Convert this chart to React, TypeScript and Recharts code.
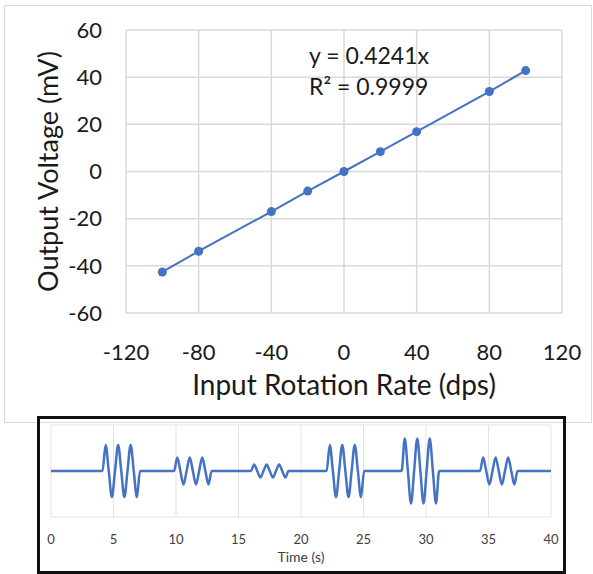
import { ComposedChart, LineChart, Line, XAxis, YAxis, CartesianGrid } from 'recharts';

// calibration: input rate (dps) vs output (mV)
const rateTicks = [-120, -80, -40, 0, 40, 80, 120];
const voltTicks = [-60, -40, -20, 0, 20, 40, 60];
const rates = [-100, -80, -40, -20, 0, 20, 40, 80, 100];
const voltages = [-42.6, -33.8, -17.0, -8.3, 0, 8.4, 16.9, 33.9, 42.8];
const fitText = ['y = 0.4241x', 'R² = 0.9999'];

// time trace (s, mV), one burst per line
const timeTicks = [0, 5, 10, 15, 20, 25, 30, 35, 40];
const signalTime = [
  0,
  4.12, 4.37, 4.62, 4.87, 5.12, 5.37, 5.62, 5.87, 6.12, 6.37, 6.62, 6.87, 7.12,
  9.85, 10.1, 10.35, 10.6, 10.85, 11.1, 11.35, 11.6, 11.85, 12.1, 12.35, 12.6, 12.85,
  16.0, 16.25, 16.5, 16.75, 17.0, 17.25, 17.5, 17.75, 18.0, 18.25, 18.5, 18.75, 19.0,
  22.05, 22.3, 22.55, 22.8, 23.05, 23.3, 23.55, 23.8, 24.05, 24.3, 24.55, 24.8, 25.05,
  28.05, 28.3, 28.55, 28.8, 29.05, 29.3, 29.55, 29.8, 30.05, 30.3, 30.55, 30.8, 31.05,
  34.32, 34.57, 34.82, 35.07, 35.32, 35.57, 35.82, 36.07, 36.32, 36.57, 36.82, 37.07, 37.32,
  40,
];
const signalMv = [
  0,
  0, 34, 0, -34, 0, 34, 0, -34, 0, 34, 0, -34, 0,
  0, 17.5, 0, -17.5, 0, 17.5, 0, -17.5, 0, 17.5, 0, -17.5, 0,
  0, 8.5, 0, -8.5, 0, 8.5, 0, -8.5, 0, 8.5, 0, -8.5, 0,
  0, 34, 0, -34, 0, 34, 0, -34, 0, 34, 0, -34, 0,
  0, 42.4, 0, -42.4, 0, 42.4, 0, -42.4, 0, 42.4, 0, -42.4, 0,
  0, 17.5, 0, -17.5, 0, 17.5, 0, -17.5, 0, 17.5, 0, -17.5, 0,
  0,
];

const FONT = 'Lato, "Open Sans", sans-serif';
const BLUE = '#4472C4';
const GRID = '#d9d9d9';
const INK = '#1a1a1a';

const calData = rates.map((r, i) => ({ rate: r, mv: voltages[i] }));
const traceData = signalTime.map((t, i) => ({ t, mv: signalMv[i] }));

export default function App() {
  return (
    <div style={{ position: 'absolute', left: 0, top: 0, width: 593, height: 574, background: '#fff', overflow: 'hidden', fontFamily: FONT }}>
      {/* frame around upper chart */}
      <div style={{ position: 'absolute', left: 4, top: 5, width: 588, height: 418, boxSizing: 'border-box', border: `1.5px solid ${GRID}` }} />

      <div style={{ position: 'absolute', left: 0, top: 0 }}>
        <ComposedChart width={593} height={420} data={calData} margin={{ top: 30, right: 31, bottom: 17, left: 10 }}>
          <CartesianGrid stroke={GRID} strokeWidth={1.5} />
          <XAxis
            dataKey="rate"
            type="number"
            domain={[-120, 120]}
            ticks={rateTicks}
            axisLine={false}
            tickLine={false}
            tickSize={0}
            tickMargin={31}
            height={90}
            tick={{ fontSize: 22, fill: INK, fontFamily: FONT }}
            label={{
              content: (p: any) => {
                const vb = p.viewBox;
                return (
                  <text x={vb.x + vb.width / 2} y={395} textAnchor="middle" fontSize={28} fill={INK} fontFamily={FONT}>
                    Input Rotation Rate (dps)
                  </text>
                );
              },
            }}
          />
          <YAxis
            type="number"
            domain={[-60, 60]}
            ticks={voltTicks}
            axisLine={false}
            tickLine={false}
            tickSize={0}
            tickMargin={24}
            width={116}
            tick={{ fontSize: 22, fill: INK, fontFamily: FONT }}
            label={{
              content: (p: any) => {
                const vb = p.viewBox;
                const cy = vb.y + vb.height / 2;
                return (
                  <text x={47} y={cy} transform={`rotate(-90 47 ${cy})`} textAnchor="middle" dominantBaseline="central" fontSize={27} fill={INK} fontFamily={FONT}>
                    Output Voltage (mV)
                  </text>
                );
              },
            }}
          />
          <Line
            dataKey="mv"
            type="linear"
            stroke={BLUE}
            strokeWidth={2}
            dot={{ r: 4.5, fill: BLUE, stroke: BLUE, strokeWidth: 0 }}
            isAnimationActive={false}
          />
        </ComposedChart>
      </div>

      {/* trendline equation */}
      <div style={{ position: 'absolute', left: 309, top: 40, fontSize: 23, lineHeight: '31px', color: INK, whiteSpace: 'nowrap' }}>
        {fitText.map((s) => (
          <div key={s}>{s}</div>
        ))}
      </div>

      {/* lower chart, black box */}
      <div style={{ position: 'absolute', left: 37, top: 416, width: 529, height: 158, boxSizing: 'border-box', border: '3px solid #111' }} />
      <div style={{ position: 'absolute', left: 0, top: 416 }}>
        <LineChart width={593} height={158} data={traceData} margin={{ top: 9, right: 42, bottom: 7, left: 51 }}>
          <CartesianGrid stroke="#e3e3e3" strokeWidth={1} />
          <XAxis
            dataKey="t"
            type="number"
            domain={[0, 40]}
            ticks={timeTicks}
            axisLine={false}
            tickLine={false}
            tickSize={0}
            tickMargin={18}
            height={50}
            tick={{ fontSize: 13, fill: '#404040', fontFamily: FONT }}
            label={{
              content: (p: any) => {
                const vb = p.viewBox;
                return (
                  <text x={vb.x + vb.width / 2} y={vb.y + 45} textAnchor="middle" fontSize={14} fill="#404040" fontFamily={FONT}>
                    Time (s)
                  </text>
                );
              },
            }}
          />
          <YAxis type="number" domain={[-60, 60]} ticks={voltTicks} width={0} tick={false} axisLine={false} tickLine={false} />
          <Line dataKey="mv" type="monotone" stroke={BLUE} strokeWidth={2.5} dot={false} isAnimationActive={false} />
        </LineChart>
      </div>
    </div>
  );
}
